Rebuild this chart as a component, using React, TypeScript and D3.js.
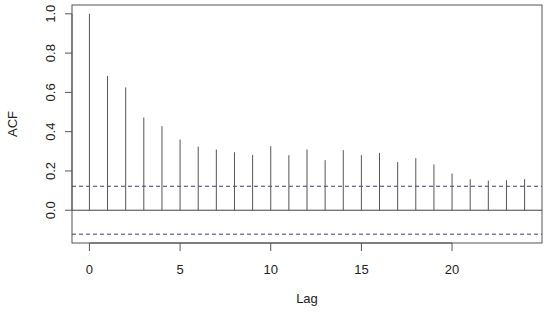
import React from "react";
import * as d3 from "d3";

const lags = d3.range(0, 25);
const acfValues = [
  1.0, 0.684, 0.625, 0.472, 0.428, 0.36, 0.324, 0.309, 0.295, 0.282, 0.326,
  0.28, 0.309, 0.255, 0.306, 0.28, 0.292, 0.245, 0.265, 0.233, 0.187, 0.158,
  0.151, 0.153, 0.158,
];
const confLimit = 0.122;
const xTicks = [0, 5, 10, 15, 20];
const yTicks = [0, 0.2, 0.4, 0.6, 0.8, 1.0];

const App = () => {
  const width = 550;
  const height = 315;
  const left = 72;
  const right = 542;
  const top = 5;
  const bottom = 243;

  const xScale = d3.scaleLinear().domain([-0.96, 24.96]).range([left, right]);
  const yScale = d3
    .scaleLinear()
    .domain([-0.1669, 1.0449])
    .range([bottom, top]);

  const font = "'Liberation Sans', Arial, sans-serif";
  const axisCol = "#555";

  return (
    <svg
      width={width}
      height={height}
      style={{ position: "absolute", left: 0, top: 0, background: "#fff" }}
      fontFamily={font}
    >
      {/* plot box */}
      <rect
        x={left}
        y={top}
        width={right - left}
        height={bottom - top}
        fill="none"
        stroke={axisCol}
        strokeWidth={1}
      />

      {/* zero line */}
      <line
        x1={left}
        x2={right}
        y1={yScale(0)}
        y2={yScale(0)}
        stroke="#444"
        strokeWidth={1}
      />

      {/* confidence bounds */}
      {[confLimit, -confLimit].map((c, i) => (
        <line
          key={i}
          x1={left}
          x2={right}
          y1={yScale(c)}
          y2={yScale(c)}
          stroke="#3f3f70"
          strokeWidth={1}
          strokeDasharray="4,3"
        />
      ))}

      {/* spikes */}
      {lags.map((lag, i) => (
        <line
          key={lag}
          x1={xScale(lag)}
          x2={xScale(lag)}
          y1={yScale(0)}
          y2={yScale(acfValues[i])}
          stroke="#555"
          strokeWidth={1}
        />
      ))}

      {/* y axis */}
      <line
        x1={left}
        x2={left}
        y1={yScale(0)}
        y2={yScale(1)}
        stroke={axisCol}
      />
      {yTicks.map(t => (
        <g key={t}>
          <line
            x1={left - 7}
            x2={left}
            y1={yScale(t)}
            y2={yScale(t)}
            stroke={axisCol}
          />
          <text
            transform={`translate(${left - 22},${yScale(t)}) rotate(-90)`}
            textAnchor="middle"
            dominantBaseline="central"
            fontSize={13}
            fill="#222"
          >
            {d3.format(".1f")(t)}
          </text>
        </g>
      ))}

      {/* x axis */}
      <line
        x1={xScale(0)}
        x2={xScale(20)}
        y1={bottom}
        y2={bottom}
        stroke={axisCol}
      />
      {xTicks.map(t => (
        <g key={t}>
          <line
            x1={xScale(t)}
            x2={xScale(t)}
            y1={bottom}
            y2={bottom + 8}
            stroke={axisCol}
          />
          <text
            x={xScale(t)}
            y={269}
            textAnchor="middle"
            dominantBaseline="central"
            fontSize={13}
            fill="#222"
          >
            {t}
          </text>
        </g>
      ))}

      {/* axis titles */}
      <text
        x={(left + right) / 2}
        y={298}
        textAnchor="middle"
        dominantBaseline="central"
        fontSize={13}
        fill="#222"
      >
        Lag
      </text>
      <text
        transform={`translate(12,${(top + bottom) / 2}) rotate(-90)`}
        textAnchor="middle"
        dominantBaseline="central"
        fontSize={13}
        fill="#222"
      >
        ACF
      </text>
    </svg>
  );
};

export default App;
